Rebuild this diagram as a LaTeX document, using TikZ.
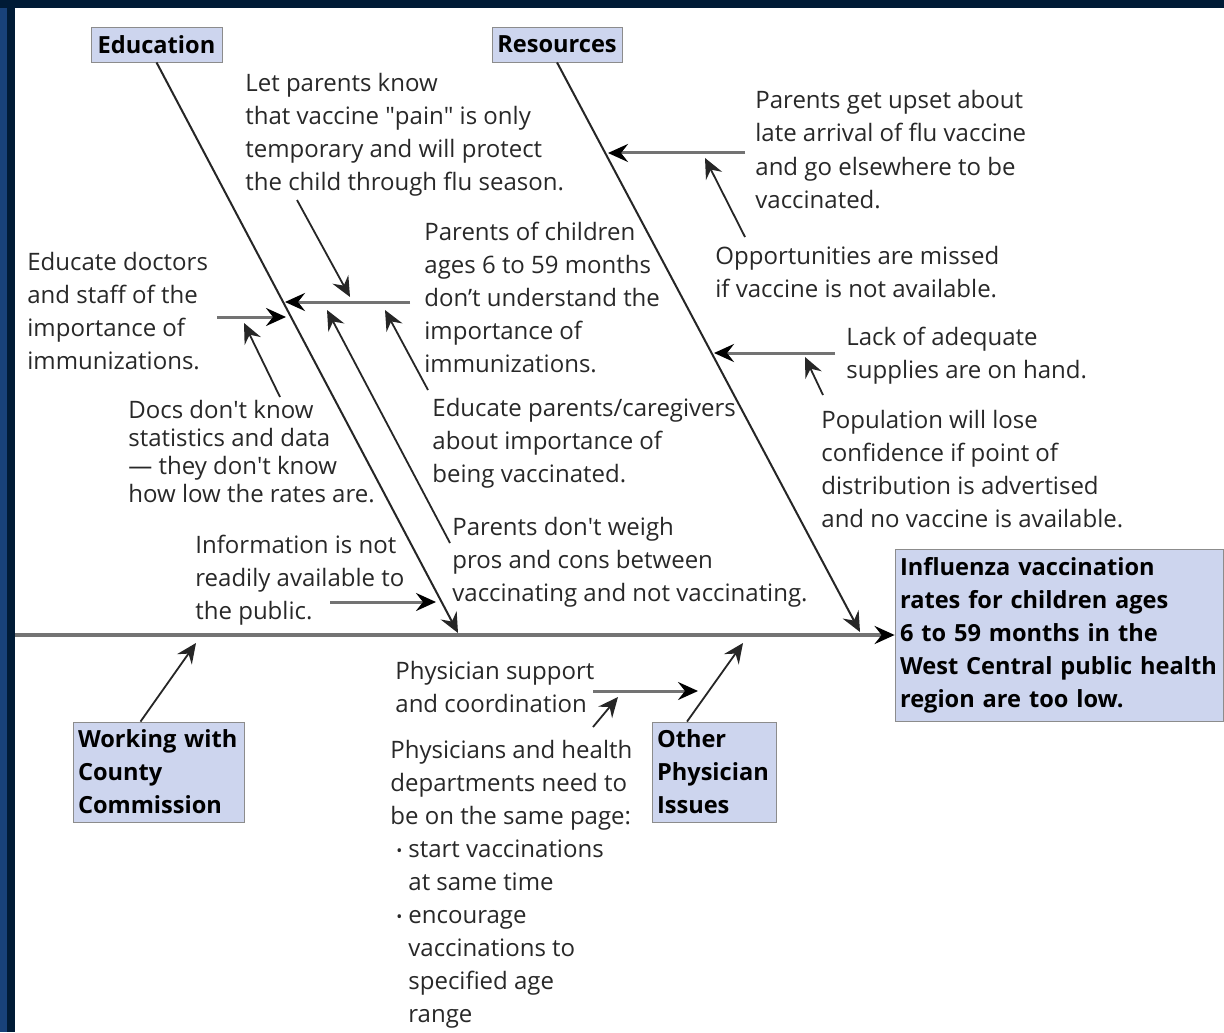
\documentclass[tikz,border=0pt]{standalone}
\usepackage{fontspec}
\setmainfont{Open Sans}
\usetikzlibrary{arrows.meta}
\definecolor{boxfill}{RGB}{205,213,238}
\definecolor{navy}{RGB}{0,27,54}
\definecolor{edgeblue}{RGB}{24,66,122}
\definecolor{inkgray}{RGB}{40,40,40}

\begin{document}
\begin{tikzpicture}[x=0.5pt, y=-0.5pt, >={Stealth[length=10pt,width=9pt,inset=3.5pt]},
  note/.style={anchor=base west, inner sep=0pt, align=left, text=inkgray, font=\fontsize{12}{16.5}\selectfont},
  catbox/.style={draw=black!45, fill=boxfill, inner xsep=2.5pt, inner ysep=0pt, align=left, text=black, font=\fontsize{11.8}{16.5}\selectfont\bfseries},
  bone/.style={->, line width=1pt, black!85},
  branch/.style={-{Stealth[length=10pt,width=9pt,inset=3.5pt,black]}, line width=1.5pt, black!55},
  cause/.style={->, line width=0.9pt, black!85}]
\fill[white] (0,0) rectangle (1224,1032);
\fill[navy] (0,0) rectangle (1224,8);
\fill[navy] (0,0) rectangle (15,1032);
\fill[edgeblue] (0,8) rectangle (7,1032);
\useasboundingbox (0,0) rectangle (1224,1032);

\node[catbox, minimum width=65.5pt, minimum height=17.5pt] (edu) at (156.5,44.5) {Education};
\node[catbox, minimum width=65pt, minimum height=17.5pt] (res) at (557,44.5) {Resources};
\node[catbox, text width=80.5pt, minimum height=50pt] (county) at (158.5,772) {Working with\\County\\Commission};
\node[catbox, text width=57pt, minimum height=50pt] (other) at (714,772) {Other\\Physician\\Issues};
\node[catbox, text width=159pt, minimum height=86pt] (effect) at (1059,635) {Influenza vaccination\\rates for children ages\\6 to 59 months in the\\West Central public health\\region are too low.};

\node[note] (letknow) at (245,191) {Let parents know\\that vaccine \textquotedbl pain\textquotedbl\ is only\\temporary and will protect\\the child through flu season.};
\node[note] (parkids) at (424,372) {Parents of children\\ages 6 to 59 months\\don’t understand the\\importance of\\immunizations.};
\node[note] (eddocs) at (27,369) {Educate doctors\\and staff of the\\importance of\\immunizations.};
\node[note, font=\fontsize{12}{14}\selectfont] (docs) at (128,502) {Docs don\textquotesingle t know\\statistics and data\\--- they don\textquotesingle t know\\how low the rates are.};
\node[note] (info) at (195,619) {Information is not\\readily available to\\the public.};
\node[note] (edpar) at (432,482) {Educate parents/caregivers\\about importance of\\being vaccinated.};
\node[note] (weigh) at (452,601) {Parents don\textquotesingle t weigh\\pros and cons between\\vaccinating and not vaccinating.};
\node[note] (upset) at (755,208) {Parents get upset about\\late arrival of flu vaccine\\and go elsewhere to be\\vaccinated.};
\node[note] (missed) at (715,297) {Opportunities are missed\\if vaccine is not available.};
\node[note] (lack) at (846,378) {Lack of adequate\\supplies are on hand.};
\node[note] (confid) at (821,527) {Population will lose\\confidence if point of\\distribution is advertised\\and no vaccine is available.};
\node[note] (support) at (395,712) {Physician support\\and coordination};
\node[note] (samepage) at (390,1022) {Physicians and health\\departments need to\\be on the same page:\\\hspace*{3pt}\makebox[6pt][l]{\raisebox{0.3pt}{\footnotesize\textbullet}}start vaccinations\\\hspace*{9pt}at same time\\\hspace*{3pt}\makebox[6pt][l]{\raisebox{0.3pt}{\footnotesize\textbullet}}encourage\\\hspace*{9pt}vaccinations to\\\hspace*{9pt}specified age\\\hspace*{9pt}range};

\coordinate (tail) at (15,635);
\coordinate (eduhead) at (458,633);
\coordinate (reshead) at (860,632);
\coordinate (lk) at (297,200);
\coordinate (lkh) at (350,297);
\coordinate (pk) at (410,302);
\coordinate (pkh) at (285,302);
\coordinate (wt) at (450,543);
\coordinate (wh) at (327,310);
\coordinate (ep) at (428,390);
\coordinate (eph) at (385,310);
\coordinate (ed) at (217,317);
\coordinate (edh) at (286,317);
\coordinate (dc) at (280,397);
\coordinate (dch) at (244,323);
\coordinate (inf) at (330,602);
\coordinate (infh) at (436,602);
\coordinate (up) at (745,153);
\coordinate (uph) at (608,153);
\coordinate (ms) at (745,237);
\coordinate (msh) at (705,158);
\coordinate (lc) at (835,353);
\coordinate (lch) at (714,353);
\coordinate (cf) at (823,395);
\coordinate (cfh) at (805,357);
\coordinate (cch) at (196,643);
\coordinate (oth) at (743,643);
\coordinate (sp) at (593,691);
\coordinate (sph) at (698,691);
\coordinate (sm) at (593,727);
\coordinate (smh) at (618,697);

\draw[branch, line width=1.8pt] (tail) -- (effect.west);
\draw[bone] (edu.south) -- (eduhead);
\draw[bone] (res.south) -- (reshead);

\draw[cause] (lk) -- (lkh);
\draw[branch] (pk) -- (pkh);
\draw[cause] (wt) -- (wh);
\draw[cause] (ep) -- (eph);
\draw[branch] (ed) -- (edh);
\draw[cause] (dc) -- (dch);
\draw[branch] (inf) -- (infh);

\draw[branch] (up) -- (uph);
\draw[cause] (ms) -- (msh);
\draw[branch] (lc) -- (lch);
\draw[cause] (cf) -- (cfh);

\draw[cause] ([xshift=-9pt]county.north) -- (cch);
\draw[cause] ([xshift=-13.5pt]other.north) -- (oth);
\draw[branch] (sp) -- (sph);
\draw[cause] (sm) -- (smh);
\end{tikzpicture}
\end{document}
